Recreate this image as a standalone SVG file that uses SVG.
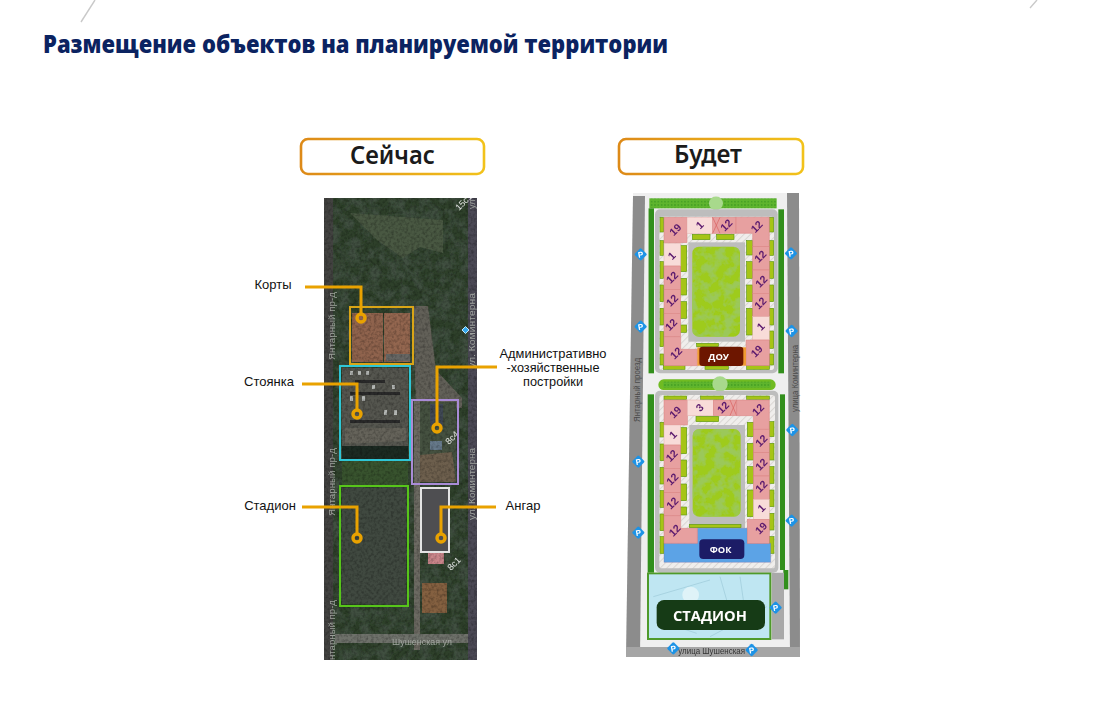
<svg xmlns="http://www.w3.org/2000/svg" width="1093" height="715" viewBox="0 0 1093 715">
<style>
text{font-family:"Liberation Sans",Arial,sans-serif}
.ttl{font-family:"Open Sans","Noto Sans",sans-serif;font-weight:800;font-size:24px;fill:#0b2361}
.hd{fill:#fff;stroke:url(#gold);stroke-width:2.6}
.ht{font-family:"Noto Sans",sans-serif;font-weight:600;font-size:25px;fill:#1b1b1b;text-anchor:middle}
.lb{font-size:13px;fill:#111;text-anchor:middle}
.la{font-size:12px;fill:#111;text-anchor:middle}
.mt{font-size:9px;fill:#aeb3ac;opacity:.85}
.c{fill:none;stroke:#e9a200;stroke-width:3}
.d{fill:none;stroke:#e9a200;stroke-width:3.4}
.z{fill:none;stroke-width:2}
.b{fill:#e7a0a0;stroke:#d9807f;stroke-width:1.5}
.l{fill:#f8dcd9;stroke:#e5b0ae;stroke-width:1.5}
.y{fill:#a6c416;stroke:#5f9a14;stroke-width:2}
.g{fill:#338f1a}
.s{fill:#5fb52e}
.r{fill:#bdbdbd}
.h{fill:url(#hatch)}
.n{font-size:32px;font-weight:700;fill:#5b1a6e;text-anchor:middle}
.w{font-size:30px;font-weight:700;fill:#fff;text-anchor:middle;font-family:"Open Sans",sans-serif}
.pk{fill:#9ecb1f}
.rd{font-size:9px;fill:#4a4a4a}
</style>
<defs>
<linearGradient id="gold" x1="0" x2="1" y1="0" y2="0"><stop offset="0" stop-color="#dd8a18"/><stop offset="1" stop-color="#f2c21a"/></linearGradient>
<pattern id="hatch" width="14" height="14" patternUnits="userSpaceOnUse" patternTransform="rotate(45)"><rect width="14" height="14" fill="#f0eeec"/><rect width="3" height="14" fill="#d9d6d3"/></pattern>
<pattern id="dots" width="10" height="10" patternUnits="userSpaceOnUse"><rect width="10" height="10" fill="#5fb52e"/><circle cx="5" cy="5" r="2.4" fill="#3f9a22"/></pattern>
<filter id="tree" x="0" y="0" width="100%" height="100%">
<feTurbulence type="fractalNoise" baseFrequency=".1" numOctaves="3" seed="4"/>
<feColorMatrix values="0 0 0 0 .05  0 0 0 0 .08  0 0 0 0 .05  3.2 0 0 0 -1.15"/>
<feComposite in2="SourceGraphic" operator="in" result="n"/>
<feMerge><feMergeNode in="SourceGraphic"/><feMergeNode in="n"/></feMerge>
</filter>
<filter id="grain" x="0" y="0" width="100%" height="100%">
<feTurbulence type="fractalNoise" baseFrequency=".35" numOctaves="2" seed="9"/>
<feColorMatrix values="0 0 0 0 0  0 0 0 0 0  0 0 0 0 0  2 0 0 0 -.8"/>
</filter>
<filter id="leaf" x="0" y="0" width="100%" height="100%">
<feTurbulence type="fractalNoise" baseFrequency=".035" numOctaves="3" seed="7"/>
<feColorMatrix values="0 0 0 0 .33  0 0 0 0 .58  0 0 0 0 .1  4 0 0 0 -1.7"/>
<feComposite in2="SourceGraphic" operator="in" result="n"/>
<feMerge><feMergeNode in="SourceGraphic"/><feMergeNode in="n"/></feMerge>
</filter>
<filter id="soft"><feGaussianBlur stdDeviation=".7"/></filter>
<filter id="soft2" x="-2%" y="-2%" width="104%" height="104%"><feGaussianBlur stdDeviation="1.3"/></filter>
<g id="p"><rect x="-14" y="-14" width="28" height="28" rx="4" transform="rotate(45)" fill="#1f93e6"/><text y="9" font-size="24" font-weight="700" fill="#fff" text-anchor="middle" transform="rotate(-10)">P</text></g>
</defs>
<rect width="1093" height="715" fill="#fff"/>
<g id="streaks" stroke="#c9c9c9" stroke-width="1.4" fill="none"><path d="M95 0L81 22"/><path d="M1037 0L1030 8"/></g>
<g id="title"><text class="ttl" x="43" y="53" textLength="625" lengthAdjust="spacingAndGlyphs">Размещение объектов на планируемой территории</text></g>
<g id="header-now"><rect class="hd" x="301" y="139" width="183" height="35" rx="7"/><text class="ht" x="392.500" y="164" textLength="85" lengthAdjust="spacingAndGlyphs">Сейчас</text></g>
<g id="header-future"><rect class="hd" x="619" y="139" width="184" height="35" rx="7"/><text class="ht" x="708" y="163" textLength="68" lengthAdjust="spacingAndGlyphs">Будет</text></g>

<g id="satellite-map">
<g filter="url(#soft)">
<rect x="324" y="198" width="153" height="462" fill="#2e4029" filter="url(#tree)"/>
<rect x="324" y="198" width="9" height="462" fill="#43433f"/>
<rect x="468" y="198" width="9" height="462" fill="#4c4954"/>
<path d="M350 213L443 220V253L420 247L403 258L377 240Z" fill="#495843"/>
<path d="M413 306L428 306L436 370L462 398V408H416Z" fill="#626158"/>
<rect x="414" y="400" width="6" height="250" fill="#6c6b62"/>
<rect x="352" y="313" width="31" height="49" fill="#8f634e"/>
<rect x="384" y="313" width="26" height="49" fill="#936650"/>
<rect x="386" y="354" width="24" height="7" fill="#666664"/>
<rect x="342" y="368" width="66" height="80" fill="#55564f"/>
<path d="M345 428H406V441L345 444Z" fill="#65645a"/>
<path d="M342 446H408V460H342Z" fill="#1f2b23"/>
<rect x="342" y="461" width="66" height="25" fill="#38532f"/>
<rect x="420" y="402" width="36" height="80" fill="#45513f"/>
<path d="M420 455L452 452L456 482H420Z" fill="#6d5f4d"/>
<rect x="430" y="404" width="13" height="22" fill="#404a55"/>
<rect x="430" y="441" width="12" height="9" fill="#66798a"/>
<rect x="342" y="488" width="64" height="116" fill="#3f4a40"/>
<rect x="428" y="553" width="16" height="11" fill="#c9858a"/>
<rect x="422" y="583" width="25" height="30" fill="#84603f"/>
<rect x="335" y="634" width="133" height="9" fill="#6e716a"/>
<g fill="#b4b7b4"><rect x="350" y="371" width="3" height="4"/><rect x="358" y="371" width="3" height="4"/><rect x="366" y="371" width="3" height="4"/><rect x="350" y="396" width="3" height="5"/><rect x="362" y="396" width="3" height="5"/><rect x="384" y="410" width="3" height="5"/><rect x="394" y="410" width="3" height="5"/><rect x="372" y="385" width="3" height="4"/><rect x="392" y="385" width="3" height="4"/></g>
<g fill="#2a2b29"><rect x="355" y="380" width="30" height="3"/><rect x="350" y="392" width="50" height="3"/><rect x="350" y="420" width="50" height="3"/></g>
</g>
<rect x="324" y="198" width="153" height="462" filter="url(#grain)" opacity=".3"/>
<path d="M462 330l3.500-3.500 3.500 3.500-3.500 3.500z" fill="#35a8ec" stroke="#bfe9ff"/>
<text class="mt" transform="translate(335 360) rotate(-90)" textLength="68" lengthAdjust="spacingAndGlyphs">Янтарный пр-д</text>
<text class="mt" transform="translate(335 516) rotate(-90)" textLength="68" lengthAdjust="spacingAndGlyphs">Янтарный пр-д</text>
<text class="mt" transform="translate(335 660) rotate(-90)" textLength="60" lengthAdjust="spacingAndGlyphs">нтарный пр-д</text>
<text class="mt" transform="translate(475 368) rotate(-90)" textLength="75" lengthAdjust="spacingAndGlyphs">ул. Коминтерна</text>
<text class="mt" transform="translate(475 520) rotate(-90)" textLength="72" lengthAdjust="spacingAndGlyphs">ул. Коминтерна</text>
<text class="mt" transform="translate(475 209) rotate(-90)">ул</text>
<text class="mt" x="392" y="645" textLength="60" lengthAdjust="spacingAndGlyphs">Шушенская ул</text>
<text class="mt" style="fill:#fff" transform="translate(459 211) rotate(-45)">15с1</text>
<text class="mt" style="fill:#fff" transform="translate(449 445) rotate(-45)">8с4</text>
<text class="mt" style="fill:#fff" transform="translate(451 571) rotate(-45)">8с1</text>
</g>

<g id="zone-courts"><rect class="z" x="350" y="307" width="63" height="57" stroke="#d9a516"/></g>
<g id="zone-parking"><rect class="z" x="340" y="366" width="70" height="94" stroke="#2fc6d6"/></g>
<g id="zone-admin"><rect class="z" x="412" y="400" width="46" height="84" stroke="#a98bd6"/></g>
<g id="zone-stadium"><rect class="z" x="340" y="486" width="68" height="120" stroke="#57c51a"/></g>
<g id="zone-hangar"><rect x="421" y="488" width="28" height="64" fill="#4e4e51" stroke="#e4e4e4" stroke-width="2"/></g>

<g id="connectors">
<path class="c" d="M305 287H361V314"/><circle class="d" cx="361" cy="318" r="4"/>
<path class="c" d="M302 384H357V410"/><circle class="d" cx="357" cy="414" r="4"/>
<path class="c" d="M497 367H437V424"/><circle class="d" cx="437" cy="428" r="4"/>
<path class="c" d="M302 507H357V534"/><circle class="d" cx="357" cy="538" r="4"/>
<path class="c" d="M496 507H441V534"/><circle class="d" cx="441" cy="538" r="4"/>
</g>

<g id="label-courts"><text class="lb" x="273" y="289">Корты</text></g>
<g id="label-parking"><text class="lb" x="269" y="386">Стоянка</text></g>
<g id="label-admin"><text class="la" x="553" y="358" textLength="107" lengthAdjust="spacingAndGlyphs">Административно</text><text class="la" x="553" y="372" textLength="93" lengthAdjust="spacingAndGlyphs">-хозяйственные</text><text class="la" x="553" y="386" textLength="60" lengthAdjust="spacingAndGlyphs">постройки</text></g>
<g id="label-stadium"><text class="lb" x="270" y="510">Стадион</text></g>
<g id="label-hangar"><text class="lb" x="523" y="510">Ангар</text></g>

<g id="plan-ground">
<path d="M633 193H799L800 657H626Z" fill="#efefef"/>
<path d="M633 196H645L640 657H626Z" fill="#8c8c8c"/>
<path d="M787 193H799L800 657H790Z" fill="#8c8c8c"/>
<rect x="626" y="647" width="174" height="10" fill="#a5a5a5"/>
<text class="rd" transform="translate(640 422) rotate(-90)" textLength="64" lengthAdjust="spacingAndGlyphs">Янтарный проезд</text>
<text class="rd" transform="translate(798 412) rotate(-90)" textLength="67" lengthAdjust="spacingAndGlyphs">улица Коминтерна</text>
</g>

<g id="block-north" transform="translate(610 130) scale(.33333)" filter="url(#soft2)">
<rect x="118" y="205" width="382" height="30" fill="url(#dots)"/><circle cx="318" cy="220" r="21" fill="#a8d98c"/>
<rect class="g" x="115" y="235" width="17" height="495"/><rect class="g" x="505" y="238" width="17" height="492"/>
<rect class="r" x="135" y="238" width="368" height="492" rx="15"/>
<rect class="h" x="148" y="260" width="344" height="460" rx="8"/>
<rect class="r" x="235" y="337" width="170" height="298"/>
<rect class="pk" x="247" y="350" width="143" height="270" rx="20" filter="url(#leaf)"/>
<g>
<rect class="y" x="150" y="262" width="11" height="44"/><rect class="y" x="150" y="332" width="11" height="44"/><rect class="y" x="150" y="395" width="11" height="50"/><rect class="y" x="150" y="465" width="11" height="50"/><rect class="y" x="150" y="535" width="11" height="50"/><rect class="y" x="150" y="605" width="11" height="45"/><rect class="y" x="150" y="672" width="11" height="33"/>
<rect class="y" x="478" y="262" width="13" height="44"/><rect class="y" x="478" y="332" width="13" height="44"/><rect class="y" x="478" y="395" width="13" height="50"/><rect class="y" x="478" y="465" width="13" height="50"/><rect class="y" x="478" y="535" width="13" height="50"/><rect class="y" x="478" y="603" width="13" height="52"/><rect class="y" x="478" y="672" width="13" height="33"/>
<rect class="y" x="212" y="347" width="18" height="78"/><rect class="y" x="212" y="445" width="18" height="50"/><rect class="y" x="212" y="515" width="18" height="50"/><rect class="y" x="212" y="585" width="18" height="22"/>
<rect class="y" x="410" y="332" width="18" height="43"/><rect class="y" x="410" y="395" width="18" height="50"/><rect class="y" x="410" y="465" width="18" height="50"/><rect class="y" x="410" y="535" width="18" height="80"/>
<rect class="y" x="247" y="313" width="53" height="16"/><rect class="y" x="320" y="313" width="52" height="16"/>
<rect class="y" x="160" y="707" width="65" height="11"/><rect class="y" x="410" y="707" width="68" height="11"/><rect class="y" x="285" y="708" width="70" height="10"/><rect class="y" x="260" y="640" width="65" height="10"/>
</g>
<rect class="b" x="162" y="262" width="69" height="76"/><rect class="l" x="231" y="262" width="77" height="48"/>
<rect class="b" x="308" y="262" width="70" height="48"/><path d="M308 262L330 310M330 262L308 310" stroke="#d9605f" stroke-width="2" fill="none"/>
<path class="b" d="M378 262H478V350H428V310H378Z"/>
<rect class="b" x="428" y="350" width="50" height="70"/><rect class="b" x="428" y="420" width="50" height="70"/><rect class="b" x="428" y="490" width="50" height="70"/><rect class="l" x="428" y="560" width="50" height="70"/>
<rect class="b" x="408" y="630" width="70" height="77"/>
<rect class="l" x="162" y="340" width="50" height="68"/><rect class="b" x="162" y="408" width="50" height="70"/><rect class="b" x="162" y="478" width="50" height="72"/><rect class="b" x="162" y="550" width="50" height="70"/>
<path class="b" d="M162 620H212V658H262V707H162Z"/>
<rect x="262" y="652" width="146" height="55" fill="#f09a30"/>
<rect x="268" y="650" width="132" height="58" rx="10" fill="#6d1800"/>
<text class="w" x="326" y="691" style="font-size:28px">ДОУ</text>
<text class="n" transform="translate(197 300) rotate(-45)" y="10">19</text>
<text class="n" transform="translate(270 286) rotate(-45)" y="10">1</text>
<text class="n" transform="translate(350 286) rotate(-45)" y="10">12</text>
<text class="n" transform="translate(441 291) rotate(-45)" y="10">12</text>
<text class="n" transform="translate(452 380) rotate(-45)" y="10">12</text>
<text class="n" transform="translate(455 455) rotate(-45)" y="10">12</text>
<text class="n" transform="translate(452 520) rotate(-45)" y="10">12</text>
<text class="n" transform="translate(453 590) rotate(-45)" y="10">1</text>
<text class="n" transform="translate(441 664) rotate(-45)" y="10">19</text>
<text class="n" transform="translate(186 378) rotate(-45)" y="10">1</text>
<text class="n" transform="translate(187 443) rotate(-45)" y="10">12</text>
<text class="n" transform="translate(187 512) rotate(-45)" y="10">12</text>
<text class="n" transform="translate(184 585) rotate(-45)" y="10">12</text>
<text class="n" transform="translate(199 670) rotate(-45)" y="10">12</text>
<rect x="145" y="748" width="352" height="32" rx="16" fill="#6fbb22"/><rect x="160" y="755" width="322" height="18" fill="url(#dots)"/><circle cx="330" cy="762" r="23" fill="#a8d98c"/>
<use href="#p" x="92" y="373"/><use href="#p" x="92" y="590"/><use href="#p" x="543" y="370"/><use href="#p" x="545" y="603"/>
</g>

<g id="block-south" transform="translate(610 380) scale(.33333)" filter="url(#soft2)">
<rect class="g" x="113" y="43" width="19" height="535"/><rect class="g" x="510" y="43" width="15" height="527"/><rect class="g" x="520" y="570" width="15" height="58"/>
<rect class="r" x="135" y="32" width="370" height="546" rx="15"/>
<rect class="h" x="148" y="45" width="347" height="520" rx="8"/>
<rect class="r" x="238" y="135" width="167" height="310"/>
<rect class="pk" x="248" y="147" width="144" height="263" rx="20" filter="url(#leaf)"/>
<rect class="y" x="150" y="127" width="12" height="44"/><rect class="y" x="150" y="192" width="12" height="50"/><rect class="y" x="150" y="262" width="12" height="50"/><rect class="y" x="150" y="332" width="12" height="50"/><rect class="y" x="150" y="402" width="12" height="50"/><rect class="y" x="150" y="470" width="12" height="50"/>
<rect class="y" x="478" y="125" width="14" height="45"/><rect class="y" x="478" y="190" width="14" height="50"/><rect class="y" x="478" y="260" width="14" height="50"/><rect class="y" x="478" y="330" width="14" height="50"/><rect class="y" x="478" y="400" width="14" height="50"/><rect class="y" x="478" y="470" width="14" height="50"/>
<rect class="y" x="212" y="143" width="18" height="78"/><rect class="y" x="212" y="240" width="18" height="50"/><rect class="y" x="212" y="312" width="18" height="50"/><rect class="y" x="212" y="381" width="18" height="24"/>
<rect class="y" x="412" y="127" width="18" height="43"/><rect class="y" x="412" y="190" width="18" height="50"/><rect class="y" x="412" y="260" width="18" height="50"/><rect class="y" x="412" y="330" width="18" height="80"/>
<rect class="y" x="258" y="109" width="68" height="16"/><rect class="y" x="162" y="48" width="68" height="10"/><rect class="y" x="272" y="48" width="68" height="10"/><rect class="y" x="410" y="48" width="68" height="10"/><rect class="y" x="238" y="433" width="155" height="10"/>
<rect class="b" x="162" y="60" width="70" height="75"/><rect class="l" x="232" y="60" width="78" height="47"/>
<rect class="b" x="310" y="60" width="70" height="47"/><path d="M360 60L380 107M380 60L360 107" stroke="#d9605f" stroke-width="2" fill="none"/>
<path class="b" d="M380 60H478V148H430V107H380Z"/>
<rect class="b" x="430" y="148" width="48" height="70"/><rect class="b" x="430" y="218" width="48" height="70"/><rect class="b" x="430" y="288" width="48" height="70"/><rect class="l" x="430" y="358" width="48" height="60"/>
<rect class="l" x="162" y="135" width="50" height="60"/><rect class="b" x="162" y="195" width="50" height="70"/><rect class="b" x="162" y="265" width="50" height="73"/><rect class="b" x="162" y="338" width="50" height="69"/>
<path d="M262 445H412V490H482V547H162V490H262Z" fill="#5ba3e6" stroke="#7a6aa8" stroke-width="1"/>
<rect class="b" x="412" y="418" width="66" height="72"/>
<path class="b" d="M162 407H212V445H262V490H162Z"/>
<rect x="268" y="478" width="135" height="59" rx="12" fill="#1c1a66"/>
<text class="w" x="332" y="519" style="font-size:28px">ФОК</text>
<text class="n" transform="translate(197 97) rotate(-45)" y="10">19</text>
<text class="n" transform="translate(270 83) rotate(-45)" y="10">3</text>
<text class="n" transform="translate(340 83) rotate(-45)" y="10">12</text>
<text class="n" transform="translate(445 90) rotate(-45)" y="10">12</text>
<text class="n" transform="translate(455 183) rotate(-45)" y="10">12</text>
<text class="n" transform="translate(455 254) rotate(-45)" y="10">12</text>
<text class="n" transform="translate(455 320) rotate(-45)" y="10">12</text>
<text class="n" transform="translate(455 385) rotate(-45)" y="10">1</text>
<text class="n" transform="translate(454 445) rotate(-45)" y="10">19</text>
<text class="n" transform="translate(190 165) rotate(-45)" y="10">1</text>
<text class="n" transform="translate(186 228) rotate(-45)" y="10">12</text>
<text class="n" transform="translate(188 298) rotate(-45)" y="10">12</text>
<text class="n" transform="translate(188 370) rotate(-45)" y="10">12</text>
<text class="n" transform="translate(195 452) rotate(-45)" y="10">12</text>
</g>

<g id="stadium-plan" transform="translate(610 380) scale(.33333)" filter="url(#soft2)">
<rect x="485" y="578" width="37" height="200" fill="#a9a9a9"/>
<rect x="114" y="580" width="367" height="197" fill="#bfe6f2" stroke="#4f9a2a" stroke-width="6"/>
<path d="M130 650L300 600M300 770L470 680M330 590L350 660M390 590L400 660M140 720L260 760" stroke="#9cc9d8" stroke-width="2" fill="none"/>
<circle cx="242" cy="645" r="25" fill="#dff3f8"/>
<rect x="140" y="660" width="325" height="90" rx="22" fill="#193a12"/>
<text class="w" x="300" y="723" style="font-size:44px" textLength="222" lengthAdjust="spacingAndGlyphs">СТАДИОН</text>
<text class="rd" style="font-size:27px;fill:#333" x="205" y="822" textLength="200" lengthAdjust="spacingAndGlyphs">улица Шушенская</text>
<use href="#p" x="85" y="245"/><use href="#p" x="85" y="458"/><use href="#p" x="547" y="150"/><use href="#p" x="545" y="422"/><use href="#p" x="497" y="683"/><use href="#p" x="190" y="805"/><use href="#p" x="425" y="810"/>
</g>
</svg>
